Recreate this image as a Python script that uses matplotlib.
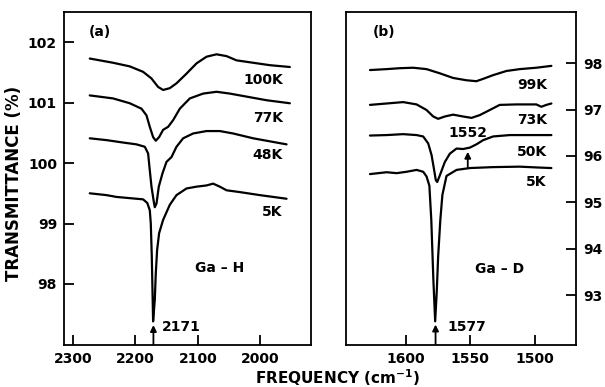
import matplotlib
matplotlib.use("Agg")
import matplotlib.pyplot as plt

# ---------------- data: panel (a) Ga-H ----------------
a100_x = [2272.8, 2235.5, 2208.8, 2187.5, 2174.1, 2163.5, 2155.5, 2144.8, 2134.1, 2118.1, 2102.1, 2086.1, 2070.1, 2054.1, 2038.1, 2011.5, 1984.8, 1952.8]
a100_y = [101.73, 101.66, 101.60, 101.51, 101.40, 101.26, 101.21, 101.24, 101.32, 101.48, 101.65, 101.76, 101.80, 101.77, 101.70, 101.66, 101.62, 101.59]

a77_x = [2272.8, 2235.5, 2208.8, 2190.1, 2182.1, 2176.8, 2171.5, 2167.2, 2161.9, 2155.5, 2147.5, 2139.5, 2128.8, 2112.8, 2091.5, 2070.1, 2048.8, 2022.1, 1990.1, 1952.8]
a77_y = [101.12, 101.07, 100.99, 100.90, 100.79, 100.60, 100.43, 100.37, 100.43, 100.55, 100.60, 100.71, 100.90, 101.07, 101.15, 101.18, 101.15, 101.10, 101.04, 100.99]

a48_x = [2272.8, 2246.1, 2219.5, 2198.1, 2184.8, 2179.5, 2176.8, 2174.1, 2170.4, 2168.8, 2166.1, 2162.4, 2156.5, 2150.1, 2142.1, 2134.1, 2123.5, 2107.5, 2086.1, 2064.8, 2043.5, 2011.5, 1979.5, 1958.1]
a48_y = [100.41, 100.38, 100.34, 100.31, 100.27, 100.16, 99.88, 99.61, 99.36, 99.27, 99.33, 99.61, 99.83, 100.02, 100.10, 100.27, 100.41, 100.49, 100.53, 100.53, 100.49, 100.41, 100.35, 100.31]

a5_x = [2272.8, 2246.1, 2230.1, 2208.8, 2187.5, 2180.8, 2176.8, 2175.2, 2173.6, 2172.5, 2171.5, 2168.8, 2167.2, 2165.1, 2161.9, 2155.5, 2144.8, 2134.1, 2118.1, 2102.1, 2086.1, 2075.5, 2064.8, 2054.1, 2032.8, 2000.8, 1958.1]
a5_y = [99.50, 99.47, 99.44, 99.42, 99.40, 99.34, 99.22, 99.00, 98.45, 97.90, 97.38, 97.74, 98.18, 98.56, 98.84, 99.06, 99.31, 99.47, 99.58, 99.61, 99.63, 99.66, 99.61, 99.55, 99.52, 99.47, 99.41]

a_labels = ["100K", "77K", "48K", "5K"]
a_xticks = [2300, 2200, 2100, 2000]
a_yticks = [98, 99, 100, 101, 102]

# ---------------- data: panel (b) Ga-D ----------------
b99_x = [1627.9, 1615.0, 1604.7, 1594.3, 1584.0, 1573.7, 1563.4, 1553.0, 1545.3, 1540.1, 1532.4, 1522.0, 1511.7, 1498.8, 1487.1]
b99_y = [97.85, 97.87, 97.89, 97.90, 97.87, 97.78, 97.68, 97.63, 97.61, 97.66, 97.74, 97.83, 97.87, 97.90, 97.94]

b73_x = [1627.9, 1615.0, 1602.1, 1591.7, 1584.0, 1578.8, 1575.0, 1569.8, 1563.4, 1555.6, 1549.1, 1542.7, 1534.9, 1527.2, 1514.2, 1498.8, 1494.9, 1491.0, 1487.1]
b73_y = [97.10, 97.13, 97.16, 97.11, 96.99, 96.85, 96.80, 96.85, 96.89, 96.85, 96.82, 96.88, 96.99, 97.10, 97.11, 97.11, 97.06, 97.10, 97.13]

b50_x = [1627.9, 1615.0, 1602.1, 1591.7, 1586.6, 1582.7, 1580.1, 1578.3, 1576.8, 1575.7, 1573.7, 1569.8, 1565.9, 1560.7, 1555.6, 1550.4, 1545.3, 1540.1, 1532.4, 1519.4, 1501.4, 1487.1]
b50_y = [96.44, 96.45, 96.47, 96.45, 96.42, 96.27, 96.02, 95.73, 95.48, 95.44, 95.58, 95.87, 96.05, 96.16, 96.15, 96.18, 96.25, 96.34, 96.42, 96.45, 96.45, 96.45]

b5_x = [1627.9, 1615.0, 1607.2, 1599.5, 1591.7, 1586.6, 1584.0, 1581.8, 1580.3, 1578.7, 1577.3, 1576.0, 1575.0, 1573.3, 1571.7, 1568.5, 1560.7, 1550.4, 1532.4, 1511.7, 1496.2, 1487.1]
b5_y = [95.61, 95.65, 95.63, 95.66, 95.70, 95.66, 95.56, 95.36, 94.62, 93.34, 92.44, 93.12, 93.83, 94.62, 95.16, 95.57, 95.70, 95.74, 95.76, 95.77, 95.75, 95.74]

b_labels = ["99K", "73K", "50K", "5K"]
b_xticks = [1600, 1550, 1500]
b_yticks = [93, 94, 95, 96, 97, 98]

peak_a = 2171
peak_b = 1577
peak_b2 = 1552

FONT = dict(family="DejaVu Sans", weight="bold")
FS = 10

fig = plt.figure(figsize=(6.05, 3.87), dpi=100)
axa = fig.add_axes([64/605, 1-345/387, (311-64)/605, (345-12)/387])
axb = fig.add_axes([346/605, 1-345/387, (576-346)/605, (345-12)/387])

lw = 1.6
for x, y in [(a100_x, a100_y), (a77_x, a77_y), (a48_x, a48_y), (a5_x, a5_y)]:
    axa.plot(x, y, color="black", lw=lw, solid_joinstyle="round", solid_capstyle="round")
for x, y in [(b99_x, b99_y), (b73_x, b73_y), (b50_x, b50_y), (b5_x, b5_y)]:
    axb.plot(x, y, color="black", lw=lw, solid_joinstyle="round", solid_capstyle="round")

axa.set_xlim(2314, 1919)
axa.set_ylim(96.99, 102.5)
axb.set_xlim(1646.5, 1468)
axb.set_ylim(91.93, 99.1)

axa.set_xticks(a_xticks)
axa.set_yticks(a_yticks)
axb.set_xticks(b_xticks)
axb.set_yticks(b_yticks)
axb.yaxis.tick_right()

for ax in (axa, axb):
    for s in ax.spines.values():
        s.set_linewidth(1.3)
    ax.tick_params(direction="in", length=7, width=1.3, labelsize=FS, pad=5)
    for lab in ax.get_xticklabels() + ax.get_yticklabels():
        lab.set_fontweight("bold")
        lab.set_family("DejaVu Sans")
axb.tick_params(axis="y", left=False, right=True, labelleft=False, labelright=True)

# temperature labels
a_lab_y = [101.37, 100.74, 100.13, 99.19]
for t, yy in zip(a_labels, a_lab_y):
    axa.text(1964, yy, t, ha="right", va="center", fontsize=FS, **FONT)
b_lab_y = [97.53, 96.77, 96.09, 95.45]
for t, yy in zip(b_labels, b_lab_y):
    axb.text(1490.7, yy, t, ha="right", va="center", fontsize=FS, **FONT)

axa.text(2274, 102.17, "(a)", ha="left", va="center", fontsize=FS, **FONT)
axb.text(1625.6, 98.67, "(b)", ha="left", va="center", fontsize=FS, **FONT)
axa.text(2065, 98.26, "Ga – H", ha="center", va="center", fontsize=FS, **FONT)
axb.text(1527, 93.57, "Ga – D", ha="center", va="center", fontsize=FS, **FONT)

arrow = dict(arrowstyle="-|>", color="black", lw=1.3, mutation_scale=9, shrinkA=0, shrinkB=0)
axa.annotate("", xy=(peak_a, 97.32), xytext=(peak_a, 97.0), arrowprops=arrow)
axa.text(2157.6, 97.29, str(peak_a), ha="left", va="center", fontsize=FS, **FONT)
axb.annotate("", xy=(peak_b, 92.37), xytext=(peak_b, 91.95), arrowprops=arrow)
axb.text(1568, 92.32, str(peak_b), ha="left", va="center", fontsize=FS, **FONT)
axb.annotate("", xy=(peak_b2, 96.09), xytext=(peak_b2, 95.74), arrowprops=arrow)
axb.text(peak_b2, 96.49, str(peak_b2), ha="center", va="center", fontsize=FS, **FONT)

fig.text(14/605, 1-183/387, "TRANSMITTANCE (%)", rotation=90, ha="center", va="center", fontsize=12, **FONT)
fig.text(338/605, 1-378/387, "FREQUENCY (cm$^{\\mathbf{-1}}$)", ha="center", va="center", fontsize=11, **FONT)

fig.savefig("out.png", dpi=100)
